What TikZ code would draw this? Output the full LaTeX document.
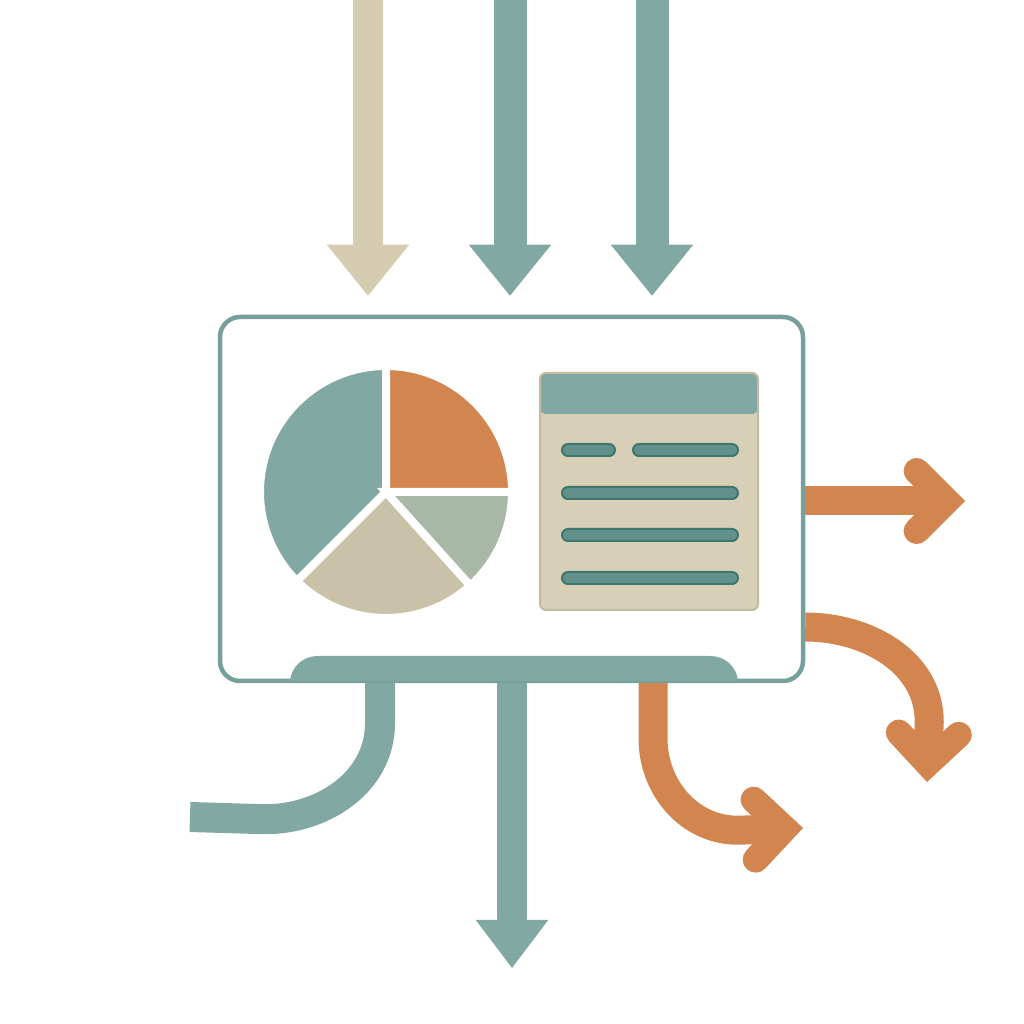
\documentclass[tikz,border=0pt]{standalone}
\usepackage{tikz}
\usetikzlibrary{arrows.meta}

\definecolor{flowteal}{RGB}{130,168,163}
\definecolor{panelline}{RGB}{118,160,155}
\definecolor{flowbeige}{RGB}{214,204,178}
\definecolor{floworange}{RGB}{210,133,79}
\definecolor{piesage}{RGB}{168,184,166}
\definecolor{piebeige}{RGB}{201,194,168}
\definecolor{tablebody}{RGB}{216,207,183}
\definecolor{tableedge}{RGB}{196,186,160}
\definecolor{barteal}{RGB}{98,144,138}
\definecolor{baredge}{RGB}{64,118,112}

\begin{document}
\begin{tikzpicture}[x = 0.1mm, y = 0.1mm,
	infeed/.style = {line width = 3.3mm, shorten > = 1.9mm, -{Triangle[length = 5.1mm, width = 8.2mm, line width = 0.2mm]}},
	outband/.style = {draw = flowteal, line width = 3mm},
	outflow/.style = {draw = floworange, line width = 2.9mm, -{Straight Barb[length = 3mm, width = 6mm, line width = 2.6mm, line cap = round, line join = miter]}},
	slice/.style = {draw = white, line width = 0.8mm},
	bar/.style = {fill = barteal, draw = baredge, line width = 0.2mm, rounded corners = 0.6mm}]
\useasboundingbox (0,0) rectangle (1024,1024);

\node[draw = panelline, line width = 0.45mm, rounded corners = 2mm, minimum width = 58.3mm, minimum height = 36.4mm, inner sep = 0] (PNL) at (511.5, 525) {};
\fill[flowteal] (290,343) to[out = 85, in = 180] (318,368) -- (710,368) to[out = 0, in = 95] (738,343) -- cycle;

\coordinate (PIE) at (386,532);
\filldraw[slice, fill = flowteal] (PIE) -- ++(90:126) arc[start angle = 90, end angle = 225, radius = 126] -- cycle;
\filldraw[slice, fill = piebeige] (PIE) -- ++(225:126) arc[start angle = 225, end angle = 312, radius = 126] -- cycle;
\filldraw[slice, fill = piesage] (PIE) -- ++(312:126) arc[start angle = 312, end angle = 360, radius = 126] -- cycle;
\filldraw[slice, fill = floworange] (PIE) -- ++(0:126) arc[start angle = 0, end angle = 90, radius = 126] -- cycle;

\node[draw = tableedge, fill = tablebody, line width = 0.2mm, rounded corners = 0.6mm, minimum width = 21.8mm, minimum height = 23.7mm, inner sep = 0,
	path picture = {\fill[flowteal] (path picture bounding box.north west) rectangle ([yshift = -4.1mm]path picture bounding box.north east);}] (TBL) at (649, 532.5) {};
\draw[bar] (562,568) rectangle (615,580);
\draw[bar] (633,568) rectangle (738,580);
\foreach \y in {531, 489, 446}
	\draw[bar] (562,{\y-6}) rectangle (738,{\y+6});

\coordinate (IN1) at (368,1024);
\coordinate (IN2) at (510,1024);
\coordinate (IN3) at (652,1024);
\coordinate (OUTD) at (512,56);
\coordinate (OUTL) at (190,207);
\coordinate (OUTB) at (803,196);
\coordinate (OUTR1) at (965,523);
\coordinate (OUTR2) at (927,242);

\draw[infeed, flowbeige, line width = 3mm] (IN1) -- (IN1 |- PNL.north);
\draw[infeed, flowteal] (IN2) -- (IN2 |- PNL.north);
\draw[infeed, flowteal] (IN3) -- (IN3 |- PNL.north);

\draw[outband, -{Triangle[length = 4.8mm, width = 7.2mm, line width = 0.2mm]}] (PNL.south -| OUTD) -- (OUTD);
\draw[outband] ([xshift = -13.15mm]PNL.south) -- ++(0,-40) to[out = -90, in = 0] ++(-115,-96) -- (OUTL);
\draw[outflow] ([xshift = 14.15mm]PNL.south) -- ++(0,-55) to[out = -90, in = 180] ++(85,-92) -- (OUTB);
\draw[outflow] (PNL.east |- OUTR1) -- (OUTR1);
\draw[outflow] ([yshift = -12.8mm]PNL.east) to[out = 0, in = 90] ++(124,-95) -- (OUTR2);
\end{tikzpicture}
\end{document}
